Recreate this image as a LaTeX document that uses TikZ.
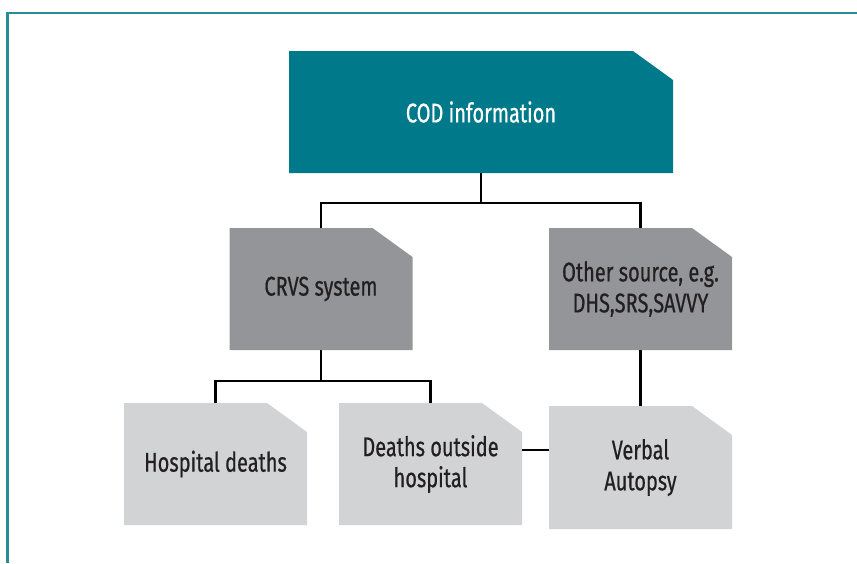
\documentclass[tikz,border=0pt]{standalone}
\usepackage{fontspec}
\setmainfont[FakeStretch=0.74,FakeBold=0.6]{Fira Sans}
\definecolor{codteal}{HTML}{00798A}
\definecolor{frameteal}{HTML}{2A8C98}
\definecolor{darkgrey}{HTML}{939598}
\definecolor{lightgrey}{HTML}{D1D3D4}
\definecolor{inkblack}{HTML}{231F20}
\tikzset{
  cutbox/.style={rectangle, inner sep=0pt, minimum height=122pt, minimum width=183pt,
    align=center, font=\fontsize{27}{31}\selectfont, text=inkblack,
    path picture={\fill[#1] (path picture bounding box.south west)
        -- (path picture bounding box.north west)
        -- ([xshift=-40pt]path picture bounding box.north east)
        -- ([yshift=-29pt]path picture bounding box.north east)
        -- (path picture bounding box.south east) -- cycle;}},
  conn/.style={draw=black, line width=2.1pt},
  framel/.style={draw=frameteal, line width=2.2pt}
}
\begin{document}
\begin{tikzpicture}[x=1pt,y=-1pt]
\useasboundingbox (0,0) rectangle (857,563);
\draw[framel] (857,13) -- (7.5,13) -- (7.5,563);

\node[cutbox=codteal, minimum width=384pt, text=white] (cod) at (481,112) {COD information};
\node[cutbox=darkgrey] (crvs) at (321,289) {CRVS system};
\node[cutbox=darkgrey] (other) at (640.5,289) {Other source, e.g.\\DHS,SRS,SAVVY};
\node[cutbox=lightgrey] (hosp) at (215.5,464) {Hospital deaths};
\node[cutbox=lightgrey] (outside) at (430.5,464) {Deaths outside\\hospital};
\node[cutbox=lightgrey, minimum height=123pt] (va) at (640.5,467.5) {Verbal\\Autopsy};

\coordinate (j1) at (481,203);
\coordinate (j2) at (321,381);
\draw[conn] (cod.south) -- (j1);
\draw[conn] (crvs.north) |- (j1) -| (other.north);
\draw[conn] (crvs.south) -- (j2);
\draw[conn] (hosp.north) |- (j2) -| (outside.north);
\draw[conn] (other.south) -- (va.north);
\draw[conn] ([yshift=14pt]outside.east) -- ([yshift=14pt]outside.east -| va.west);
\end{tikzpicture}
\end{document}
